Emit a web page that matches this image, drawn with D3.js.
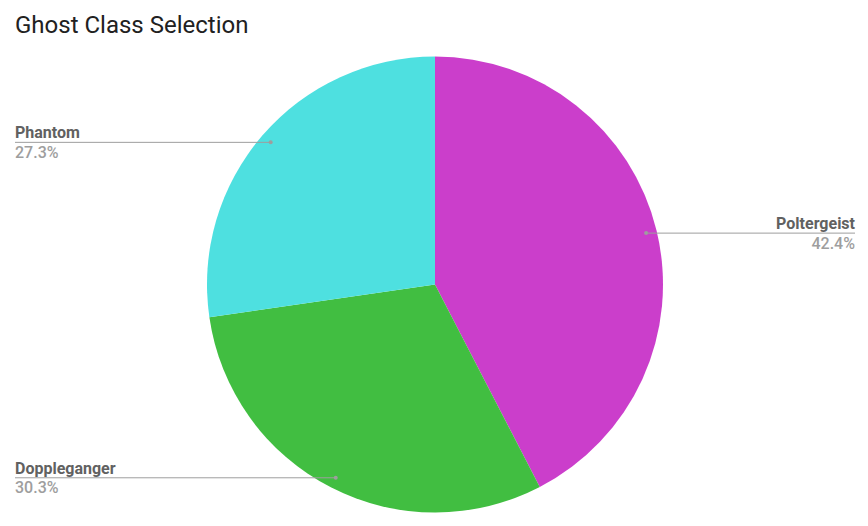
<!DOCTYPE html>
<html><head><meta charset="utf-8">
<script src="https://cdn.jsdelivr.net/npm/d3@7/dist/d3.min.js"></script>
<style>body{margin:0;background:#fff;}svg{display:block;font-family:Roboto,sans-serif;}</style>
</head><body>
<svg id="c" width="868" height="526"></svg>
<script>
const categories = ["Poltergeist", "Doppleganger", "Phantom"];
const values = [42.4, 30.3, 27.3];
const colors = ["#cb3ecb", "#41be41", "#4ee0e0"];
const labelSide = ["right", "left", "left"];

const svg = d3.select("#c");
const cx = 435, cy = 284.5, R = 228;

svg.append("text").attr("x", 15).attr("y", 33)
  .attr("font-size", 24).attr("fill", "#212121").text("Ghost Class Selection");

const data = categories.map((c, i) => ({name: c, value: values[i], color: colors[i], side: labelSide[i]}));
const pie = d3.pie().value(d => d.value).sort(null);
const arcs = pie(data);
const arc = d3.arc().innerRadius(0).outerRadius(R);
const g = svg.append("g").attr("transform", `translate(${cx},${cy})`);
g.selectAll("path").data(arcs).join("path")
  .attr("d", arc).attr("fill", d => d.data.color);

const inner = R * 0.953;
const total = d3.sum(values);
arcs.forEach(a => {
  const mid = (a.startAngle + a.endAngle) / 2;
  const px = cx + inner * Math.sin(mid);
  const py = cy - inner * Math.cos(mid);
  const isRight = a.data.side === "right";
  const xEnd = isRight ? 855 : 15;
  svg.append("line").attr("x1", px).attr("y1", py).attr("x2", xEnd).attr("y2", py)
    .attr("stroke", "#9e9e9e").attr("stroke-width", 1);
  svg.append("circle").attr("cx", px).attr("cy", py).attr("r", 2).attr("fill", "#9e9e9e");
  const anchor = isRight ? "end" : "start";
  svg.append("text").attr("x", xEnd).attr("y", py - 4).attr("text-anchor", anchor)
    .attr("font-size", 16).attr("font-weight", "bold").attr("fill", "#616161").text(a.data.name);
  svg.append("text").attr("x", xEnd).attr("y", py + 15.5).attr("text-anchor", anchor)
    .attr("font-size", 16).attr("font-weight", 500).attr("fill", "#9e9e9e")
    .text((a.data.value / total * 100).toFixed(1) + "%");
});
</script>
</body></html>
